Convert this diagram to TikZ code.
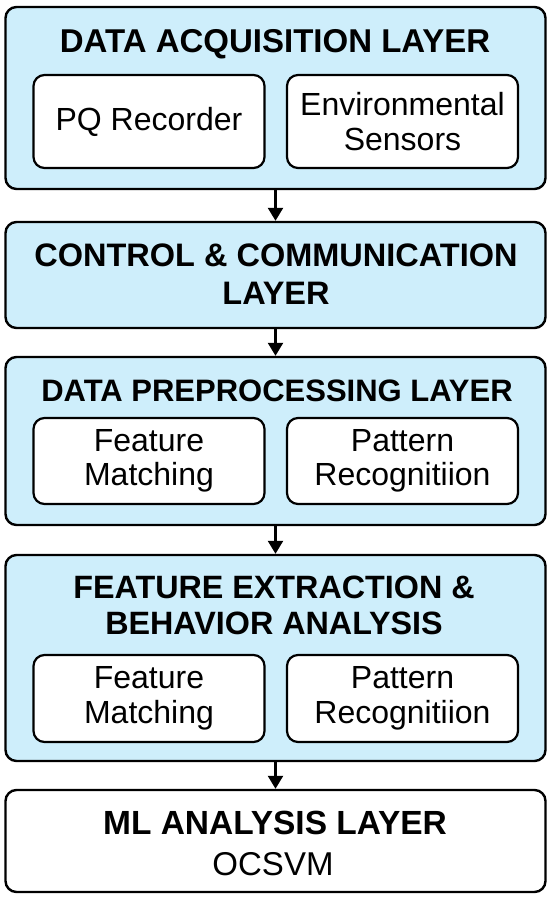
\documentclass[tikz,border=0pt]{standalone}
\usepackage{fontspec}
\setmainfont{Liberation Sans}
\usetikzlibrary{arrows.meta}
\definecolor{lb}{RGB}{206,238,251}
\tikzset{
  layer/.style={draw, line width=2.4pt, rounded corners=11pt, fill=lb, minimum width=540pt, inner sep=0pt},
  inbox/.style={draw, line width=2.2pt, rounded corners=11pt, fill=white, minimum width=231pt, inner sep=0pt, align=center, font=\fontsize{32}{34.5}\selectfont},
  ttl/.style={inner sep=0pt, align=center},
  flow/.style={line width=2.4pt, -{Triangle[width=15pt,length=13pt]}}
}
\begin{document}
\begin{tikzpicture}[x=1pt,y=-1pt]
\useasboundingbox (0,0) rectangle (550,899);
% layers
\node[layer, minimum height=182pt] (L1) at (275.5,98) {};
\node[layer, minimum height=106pt] (L2) at (275.5,275) {};
\node[layer, minimum height=168pt] (L3) at (275.5,441) {};
\node[layer, minimum height=206pt] (L4) at (275.5,658) {};
\node[layer, minimum height=102pt, fill=white] (L5) at (275.5,841) {};
% titles
\node[ttl, font=\bfseries\fontsize{33}{38}\selectfont] (T1) at (275,44) {DATA ACQUISITION LAYER};
\node[ttl, font=\bfseries\fontsize{32.5}{38}\selectfont] (T2) at (276,274) {CONTROL \& COMMUNICATION\\LAYER};
\node[ttl, font=\bfseries\fontsize{31}{38}\selectfont] (T3) at (277,391) {DATA PREPROCESSING LAYER};
\node[ttl, font=\bfseries\fontsize{32.3}{36}\selectfont] (T4) at (274,605) {FEATURE EXTRACTION \&\\BEHAVIOR ANALYSIS};
\node[ttl, font=\bfseries\fontsize{33.5}{38}\selectfont] (T5) at (275,823) {ML ANALYSIS LAYER};
\node[ttl, font=\fontsize{33}{38}\selectfont] (S5) at (273,864) {OCSVM};
% inner boxes
\node[inbox, minimum height=93pt] (A1) at (149,121.5) {PQ Recorder};
\node[inbox, minimum height=93pt] (A2) at (402.5,121.5) {Environmental\\Sensors};
\node[inbox, minimum height=86pt] (B1) at (149,461) {Feature\\Matching};
\node[inbox, minimum height=86pt] (B2) at (402.5,461) {Pattern\\Recognitiion};
\node[inbox, minimum height=87pt] (C1) at (149,698.5) {Feature\\Matching};
\node[inbox, minimum height=87pt] (C2) at (402.5,698.5) {Pattern\\Recognitiion};
% arrows
\draw[flow] (L1.south) -- (L2.north);
\draw[flow] (L2.south) -- (L3.north);
\draw[flow] (L3.south) -- (L4.north);
\draw[flow] (L4.south) -- (L5.north);
\end{tikzpicture}
\end{document}
